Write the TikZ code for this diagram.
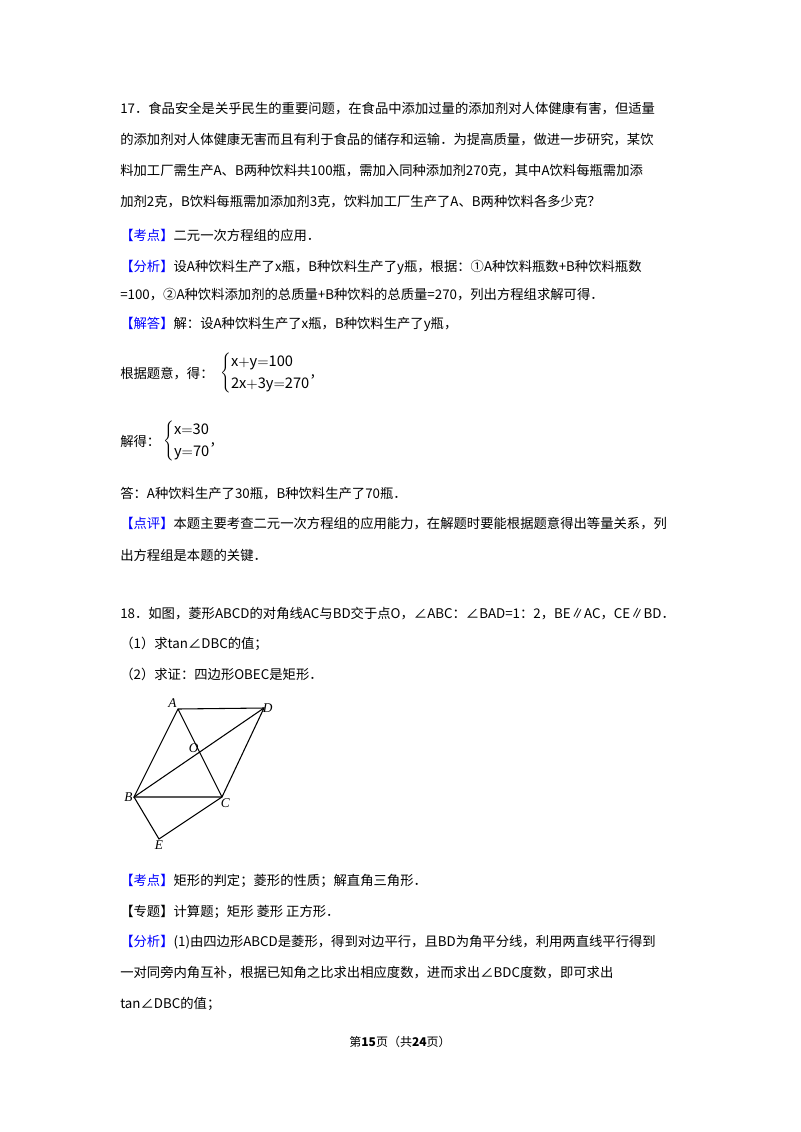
\documentclass[tikz,border=0pt]{standalone}
\usepackage{fontspec}
\setmainfont{Noto Sans CJK SC}
\newfontfamily\serifit{Liberation Serif}
\XeTeXlinebreaklocale "zh"
\XeTeXlinebreakskip=0pt plus 2pt
\begin{document}
\begin{tikzpicture}[x=0.75pt,y=-0.75pt,
  ln/.style={anchor=base west,inner sep=0pt,font=\fontsize{10pt}{12pt}\selectfont},
  lbl/.style={inner sep=1pt,font=\serifit\itshape\fontsize{10pt}{11pt}\selectfont},
  eq/.style={anchor=west,inner sep=0pt,font=\fontsize{11pt}{13pt}\selectfont},
  seg/.style={line width=0.8pt}]
\useasboundingbox (0,0) rectangle (800,1132);
\fill[white] (0,0) rectangle (800,1132);
\newcommand{\kb}[1]{\textcolor{blue}{【#1】}}
\newcommand{\jl}[1]{\hbox to 420pt{#1}}
\node[ln] (l1) at (120,113) {\jl{17．食品安全是关乎民生的重要问题，在食品中添加过量的添加剂对人体健康有害，但适量}};
\node[ln] (l2) at (120,144) {\jl{的添加剂对人体健康无害而且有利于食品的储存和运输．为提高质量，做进一步研究，某饮}};
\node[ln] (l3) at (120,175) {\jl{料加工厂需生产A、B两种饮料共100瓶，需加入同种添加剂270克，其中A饮料每瓶需加添}};
\node[ln] (l4) at (120,206) {加剂2克，B饮料每瓶需加添加剂3克，饮料加工厂生产了A、B两种饮料各多少克？};
\node[ln] (l5) at (120,240) {\kb{考点}二元一次方程组的应用．};
\node[ln] (l6) at (120,271) {\jl{\kb{分析}设A种饮料生产了x瓶，B种饮料生产了y瓶，根据：①A种饮料瓶数+B种饮料瓶数}};
\node[ln] (l7) at (120,299) {=100，②A种饮料添加剂的总质量+B种饮料的总质量=270，列出方程组求解可得．};
\node[ln] (l8) at (120,328) {\kb{解答}解：设A种饮料生产了x瓶，B种饮料生产了y瓶，};
\node[ln] (l9) at (120,378) {根据题意，得：};
\node[eq] (s1) at (220,373) {$\left\{\renewcommand{\arraystretch}{1.25}\begin{array}{@{}l@{}}\mathrm{x{+}y{=}100}\\ \mathrm{2x{+}3y{=}270}\end{array}\right.$,};
\node[ln] (l10) at (120,446) {解得：};
\node[eq] (s2) at (163,441) {$\left\{\renewcommand{\arraystretch}{1.25}\begin{array}{@{}l@{}}\mathrm{x{=}30}\\ \mathrm{y{=}70}\end{array}\right.$,};
\node[ln] (l11) at (120,498) {答：A种饮料生产了30瓶，B种饮料生产了70瓶．};
\node[ln] (l12) at (120,528) {\jl{\kb{点评}本题主要考查二元一次方程组的应用能力，在解题时要能根据题意得出等量关系，列}};
\node[ln] (l13) at (120,560) {出方程组是本题的关键．};
\node[ln] (l14) at (120,618) {18．如图，菱形ABCD的对角线AC与BD交于点O，∠ABC：∠BAD=1：2，BE∥AC，CE∥BD．};
\node[ln] (l15) at (120,648) {（1）求tan∠DBC的值；};
\node[ln] (l16) at (120,679) {（2）求证：四边形OBEC是矩形．};
% figure
\coordinate (A) at (178,709);
\coordinate (D) at (264,708);
\coordinate (B) at (134,797);
\coordinate (C) at (222,797);
\coordinate (E) at (159,839);
\coordinate (O) at (200,753);
\draw[seg] (A)--(D)--(C)--(B)--cycle;
\draw[seg] (A)--(C) (B)--(D);
\draw[seg] (B)--(E)--(C);
\node[lbl,above left] (nA) at (A) {A};
\node[lbl,right,xshift=-2pt] (nD) at (D) {D};
\node[lbl,above left,yshift=-1pt] (nO) at (O) {O};
\node[lbl,left] (nB) at (B) {B};
\node[lbl,below right,xshift=-2pt] (nC) at (C) {C};
\node[lbl,below] (nE) at (E) {E};
\node[ln] (l17) at (120,885) {\kb{考点}矩形的判定；菱形的性质；解直角三角形．};
\node[ln] (l18) at (120,916) {【专题】计算题；矩形 菱形 正方形．};
\node[ln] (l19) at (120,946) {\jl{\kb{分析}(1)由四边形ABCD是菱形，得到对边平行，且BD为角平分线，利用两直线平行得到}};
\node[ln] (l20) at (120,977) {一对同旁内角互补，根据已知角之比求出相应度数，进而求出∠BDC度数，即可求出};
\node[ln] (l21) at (120,1008) {tan∠DBC的值；};
\node[anchor=base,inner sep=0pt,font=\fontsize{9pt}{10pt}\selectfont] (ft) at (400,1046) {第\textbf{15}页（共\textbf{24}页）};
\end{tikzpicture}
\end{document}
